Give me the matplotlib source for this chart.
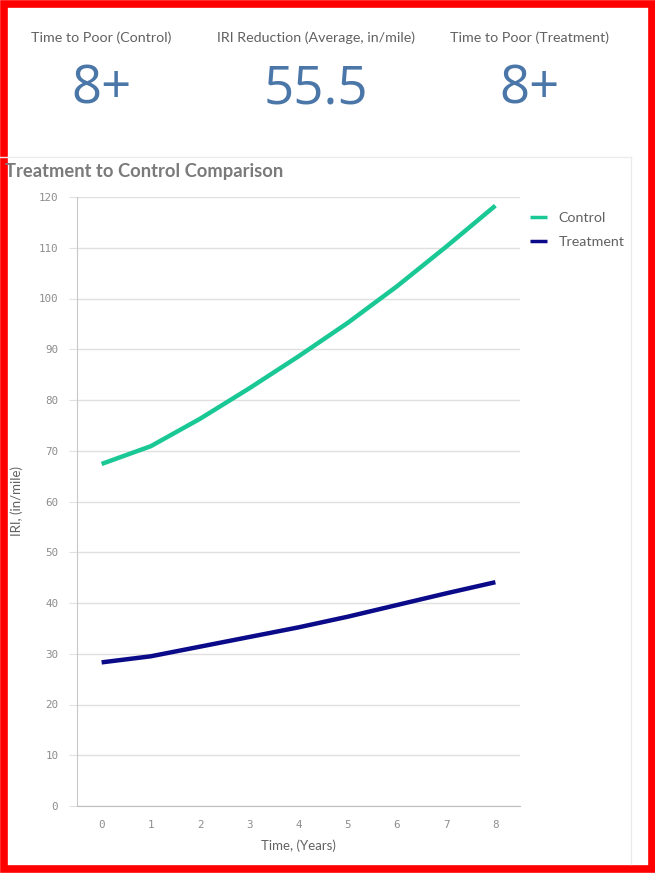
import matplotlib
matplotlib.use("Agg")
import matplotlib.pyplot as plt
import matplotlib.patches as patches

plt.rcParams['font.family'] = ['Lato', 'DejaVu Sans']

# --- data ---
years = [0, 1, 2, 3, 4, 5, 6, 7, 8]
control_iri = [67.4, 70.9, 76.3, 82.3, 88.6, 95.2, 102.4, 110.2, 118.3]
treatment_iri = [28.3, 29.5, 31.4, 33.3, 35.2, 37.3, 39.6, 41.9, 44.1]
y_ticks = [0, 10, 20, 30, 40, 50, 60, 70, 80, 90, 100, 110, 120]

kpi_titles = ["Time to Poor (Control)", "IRI Reduction (Average, in/mile)", "Time to Poor (Treatment)"]
kpi_values = ["8+", "55.5", "8+"]

COLORS = {
    'control': '#19C894',
    'treatment': '#0B0B8A',
    'kpi': '#4A76A8',
    'label': '#616161',
    'tick': '#8C8C8C',
    'grid': '#E0E0E0',
    'spine': '#C8C8C8',
    'frame': '#FF0000',
}

W, H = 655, 873
fig = plt.figure(figsize=(W / 100, H / 100), dpi=100)
fig.patch.set_facecolor('white')


def fx(px):
    return px / W


def fy(py):
    return 1 - py / H


# --- KPI row ---
kpi_x = [101, 316, 530]
for x, title, val in zip(kpi_x, kpi_titles, kpi_values):
    fig.text(fx(x), fy(38), title, ha='center', va='center', fontsize=10.3,
             color=COLORS['label'])
    fig.text(fx(x), fy(90), val, ha='center', va='center', fontsize=38,
             color=COLORS['kpi'], family='Open Sans')

# --- card outline behind the chart ---
fig.add_artist(plt.Line2D([0, fx(631)], [fy(157), fy(157)], color='#EBEBEB', lw=1))
fig.add_artist(plt.Line2D([fx(631), fx(631)], [fy(157), fy(864)], color='#EBEBEB', lw=1))

fig.text(fx(5), fy(171), "Treatment to Control Comparison", ha='left', va='center',
         fontsize=13.2, fontweight='bold', color='#7A7A7A')

# --- line chart ---
ax = fig.add_axes([fx(77), fy(806), fx(520) - fx(77), fy(197) - fy(806)])
ax.plot(years, control_iri, color=COLORS['control'], lw=3.2, label='Control',
        solid_capstyle='butt')
ax.plot(years, treatment_iri, color=COLORS['treatment'], lw=3.2, label='Treatment',
        solid_capstyle='butt')

ax.set_xlim(-0.5, 8.5)
ax.set_ylim(0, 120)
ax.set_xticks(years)
ax.set_yticks(y_ticks)
ax.grid(axis='y', color=COLORS['grid'], lw=1)
ax.set_axisbelow(True)
for side in ['top', 'right']:
    ax.spines[side].set_visible(False)
ax.spines['left'].set_color(COLORS['spine'])
ax.spines['bottom'].set_color('#BDBDBD')
ax.tick_params(axis='y', length=5.5, color=COLORS['grid'], labelcolor=COLORS['tick'],
               labelsize=7.8, pad=8)
ax.tick_params(axis='x', length=0, labelcolor=COLORS['tick'], labelsize=7.8, pad=10)
for lbl in ax.get_xticklabels() + ax.get_yticklabels():
    lbl.set_fontfamily('DejaVu Sans Mono')

ax.set_xlabel("Time, (Years)", fontsize=9.5, color=COLORS['label'], labelpad=7)
fig.text(fx(17), fy(501), "IRI, (in/mile)", rotation=90, ha='center', va='center',
         fontsize=9.5, color=COLORS['label'])

leg = ax.legend(loc='upper left', bbox_to_anchor=(1.0226, 0.976), frameon=False,
                fontsize=10.3, handlelength=1.2, handletextpad=0.8, labelspacing=0.85,
                borderpad=0, borderaxespad=0, labelcolor=COLORS['label'])
for h in leg.get_lines():
    h.set_linewidth(2.5)

# --- red frame around the whole panel ---
fig.add_artist(patches.Rectangle((fx(3.5), fy(869)), fx(648), fy(4) - fy(869),
                                 fill=False, edgecolor=COLORS['frame'], lw=5.5,
                                 transform=fig.transFigure))

fig.savefig("out.png", dpi=100, facecolor='white')
